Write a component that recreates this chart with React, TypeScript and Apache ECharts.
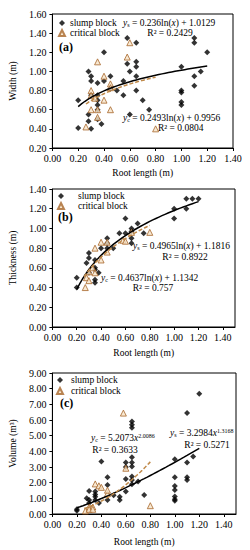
import React, { useEffect, useRef } from "react";
import * as echarts from "echarts";

// ---------- Data ----------
// Panel (a): Width vs root length
const widthSlumpX = [0.2, 0.2, 0.28, 0.3, 0.3, 0.28, 0.28, 0.3, 0.3, 0.35, 0.4, 0.4, 0.35, 0.35, 0.35, 0.35, 0.35, 0.38, 0.45, 0.45, 0.5, 0.55, 0.55, 0.58, 0.58, 0.6, 0.6, 0.65, 0.65, 0.65, 0.65, 0.65, 0.7, 0.75, 1.0, 1.0, 1.0, 1.0, 1.0, 1.1, 1.1, 1.1, 1.1, 1.15, 1.2];
const widthSlumpY = [0.70, 0.41, 1.00, 0.95, 0.90, 0.55, 0.48, 0.40, 0.75, 0.88, 0.90, 1.20, 0.75, 0.70, 0.65, 0.60, 0.50, 0.45, 0.95, 0.82, 0.80, 0.90, 0.75, 1.35, 1.08, 1.00, 0.55, 1.30, 1.10, 1.05, 0.95, 0.80, 0.70, 0.60, 1.05, 0.80, 0.78, 0.68, 0.65, 1.35, 1.30, 0.95, 0.85, 1.00, 1.20];
const widthCritX = [0.26, 0.3, 0.3, 0.3, 0.35, 0.35, 0.35, 0.4, 0.4, 0.45, 0.45, 0.58, 0.6, 0.8, 0.33, 0.45];
const widthCritY = [0.42, 0.80, 0.75, 0.60, 1.10, 0.60, 0.52, 0.95, 0.70, 0.87, 0.60, 1.15, 1.30, 0.40, 0.72, 0.83];

// Panel (b): Thickness vs root length
const thickSlumpX = [0.2, 0.2, 0.28, 0.3, 0.3, 0.3, 0.35, 0.35, 0.35, 0.35, 0.35, 0.38, 0.4, 0.45, 0.45, 0.45, 0.5, 0.55, 0.6, 0.6, 0.65, 0.65, 0.65, 0.65, 0.7, 0.75, 1.0, 1.0, 1.1, 1.1, 1.15, 1.2];
const thickSlumpY = [0.40, 0.50, 0.65, 0.75, 0.70, 0.55, 0.68, 0.60, 0.58, 0.48, 0.45, 0.55, 0.80, 0.85, 0.90, 0.80, 0.80, 0.95, 1.10, 0.95, 1.00, 0.97, 0.90, 0.85, 1.05, 0.95, 1.20, 1.10, 1.30, 1.20, 1.30, 1.30];
const thickCritX = [0.27, 0.28, 0.3, 0.3, 0.33, 0.35, 0.35, 0.4, 0.4, 0.45, 0.45, 0.58, 0.6, 0.65, 0.8];
const thickCritY = [0.40, 0.50, 0.56, 0.47, 0.60, 0.80, 0.55, 0.68, 0.86, 0.86, 0.76, 0.88, 0.87, 0.96, 0.96];

// Panel (c): Volume vs root length
const volSlumpX = [0.2, 0.2, 0.28, 0.3, 0.3, 0.3, 0.35, 0.35, 0.35, 0.35, 0.38, 0.4, 0.45, 0.45, 0.45, 0.5, 0.55, 0.55, 0.6, 0.6, 0.6, 0.6, 0.65, 0.65, 0.65, 0.65, 0.65, 0.65, 0.65, 0.65, 0.65, 0.7, 0.75, 1.0, 1.0, 1.0, 1.0, 1.0, 1.0, 1.0, 1.1, 1.1, 1.1, 1.1, 1.15, 1.2];
const volSlumpY = [0.30, 0.20, 1.00, 1.47, 0.90, 0.70, 1.43, 1.25, 1.10, 0.90, 0.70, 3.35, 2.35, 1.85, 0.90, 1.20, 1.10, 0.90, 3.28, 3.00, 2.24, 1.43, 5.90, 5.70, 5.50, 3.62, 3.28, 3.03, 2.39, 2.17, 1.90, 2.07, 1.22, 3.50, 2.35, 1.79, 1.53, 1.11, 0.94, 0.85, 6.44, 3.28, 2.35, 2.17, 3.67, 7.68];
const volCritX = [0.27, 0.3, 0.33, 0.3, 0.33, 0.35, 0.38, 0.4, 0.45, 0.45, 0.58, 0.6, 0.8];
const volCritY = [0.20, 0.45, 0.45, 0.30, 0.30, 1.92, 1.80, 1.70, 1.30, 1.52, 6.44, 2.92, 0.53];

// Trend line coefficients (from the equations printed on the chart)
const widthFitS = [0.236, 1.0129];
const widthFitC = [0.2493, 0.9956];
const thickFitS = [0.4965, 1.1816];
const thickFitC = [0.4637, 1.1342];
const volFitS = [3.2984, 1.3168];
const volFitC = [5.2073, 2.0086];
const slumpRange = [0.2, 1.2];
const critRange = [0.26, 0.8];

const yTitles = ["Width (m)", "Thickness (m)", "Volume (m³)"];
const xTitle = "Root length (m)";
const legendNames = ["slump block", "critical block"];

// ---------- helpers ----------
const FONT = '"Liberation Serif", "Times New Roman", serif';
const zip = (xs: number[], ys: number[]) => xs.map((x, i) => [x, ys[i]]);
const sampleXs = (r: number[]) => {
  const out: number[] = [];
  const n = 40;
  for (let i = 0; i <= n; i++) out.push(r[0] + ((r[1] - r[0]) * i) / n);
  return out;
};
const logFit = (c: number[], r: number[]) => sampleXs(r).map((x) => [x, c[0] * Math.log(x) + c[1]]);
const powFit = (c: number[], r: number[]) => sampleXs(r).map((x) => [x, c[0] * Math.pow(x, c[1])]);

const SLUMP_COLOR = "#000";
const CRIT_EDGE = "#A8672A";
const CRIT_FILL = "#F6E3C8";
const CRIT_LINE = "#C08A4A";

function buildOption() {
  const grids = [
    { left: 52, top: 14, right: 17, height: 134 },
    { left: 52, top: 189, right: 15, height: 138 },
    { left: 52, top: 373, right: 14, height: 141 },
  ].map((g) => ({ ...g, show: true, borderColor: "#000", borderWidth: 1, backgroundColor: "transparent" }));

  const xMax = [1.4, 1.5, 1.5];
  const xNameGap = [20, 21, 23];
  const xAxis = xMax.map((mx, i) => ({
    type: "value",
    gridIndex: i,
    min: 0,
    max: mx,
    interval: 0.2,
    name: xTitle,
    nameLocation: "middle",
    nameGap: xNameGap[i],
    nameTextStyle: { fontFamily: FONT, fontSize: 9.5, color: "#000" },
    axisLine: { show: true, onZero: false, lineStyle: { color: "#000", width: 1 } },
    axisTick: { show: true, length: 3, lineStyle: { color: "#000" } },
    axisLabel: {
      fontFamily: FONT,
      fontSize: 10,
      color: "#000",
      margin: 5,
      showMaxLabel: mx === 1.4,
      formatter: (v: number) => v.toFixed(2),
    },
    splitLine: { show: false },
  }));

  const yCfg = [
    { min: 0.2, max: 1.6, interval: 0.2, gap: 32 },
    { min: 0, max: 1.4, interval: 0.2, gap: 31 },
    { min: 0, max: 9, interval: 1, gap: 34 },
  ];
  const yAxis = yCfg.map((c, i) => ({
    type: "value",
    gridIndex: i,
    min: c.min,
    max: c.max,
    interval: c.interval,
    name: yTitles[i],
    nameLocation: "middle",
    nameGap: c.gap,
    nameTextStyle: { fontFamily: FONT, fontSize: 9.5, color: "#000" },
    axisLine: { show: true, onZero: false, lineStyle: { color: "#000", width: 1 } },
    axisTick: { show: true, length: 3, lineStyle: { color: "#000" } },
    axisLabel: {
      fontFamily: FONT,
      fontSize: 10,
      color: "#000",
      margin: 6,
      formatter: (v: number) => v.toFixed(2),
    },
    splitLine: { show: false },
  }));

  const slumpData = [zip(widthSlumpX, widthSlumpY), zip(thickSlumpX, thickSlumpY), zip(volSlumpX, volSlumpY)];
  const critData = [zip(widthCritX, widthCritY), zip(thickCritX, thickCritY), zip(volCritX, volCritY)];
  const fitS = [logFit(widthFitS, slumpRange), logFit(thickFitS, slumpRange), powFit(volFitS, slumpRange)];
  const fitC = [logFit(widthFitC, critRange), logFit(thickFitC, critRange), powFit(volFitC, critRange)];

  const series: any[] = [];
  for (let i = 0; i < 3; i++) {
    series.push({
      type: "scatter",
      name: legendNames[0],
      xAxisIndex: i,
      yAxisIndex: i,
      symbol: "diamond",
      symbolSize: 6,
      itemStyle: { color: SLUMP_COLOR },
      data: slumpData[i],
      z: 2,
    });
    series.push({
      type: "scatter",
      name: legendNames[1],
      xAxisIndex: i,
      yAxisIndex: i,
      symbol: "triangle",
      symbolSize: 6,
      itemStyle: { color: CRIT_FILL, borderColor: CRIT_EDGE, borderWidth: 1 },
      data: critData[i],
      z: 3,
    });
    series.push({
      type: "line",
      name: "fit-s-" + i,
      xAxisIndex: i,
      yAxisIndex: i,
      showSymbol: false,
      symbol: "none",
      silent: true,
      lineStyle: { color: "#000", width: 1.5 },
      data: fitS[i],
      z: 4,
    });
    series.push({
      type: "line",
      name: "fit-c-" + i,
      xAxisIndex: i,
      yAxisIndex: i,
      showSymbol: false,
      symbol: "none",
      silent: true,
      lineStyle: { color: CRIT_LINE, width: 1.5, type: [4, 2] },
      data: fitC[i],
      z: 4,
    });
  }

  const legCfg = [
    { left: 58, top: 18, pad: 0, lh: 10, gap: 0 },
    { left: 57, top: 191, pad: 9, lh: 9, gap: 0 },
    { left: 56, top: 375, pad: 3, lh: 10, gap: 1 },
  ];
  const legend = legCfg.map((l) => ({
    orient: "vertical",
    left: l.left,
    top: l.top,
    padding: 0,
    itemGap: l.gap,
    itemWidth: 6,
    itemHeight: 6,
    selectedMode: false,
    data: legendNames,
    textStyle: { fontFamily: FONT, fontSize: 9.5, color: "#000", lineHeight: l.lh, padding: [0, 0, 0, l.pad] },
  }));

  const rich = {
    n: { fontFamily: FONT, fontSize: 9.5, color: "#000", lineHeight: 10 },
    i: { fontFamily: FONT, fontSize: 9.5, fontStyle: "italic", color: "#000", lineHeight: 10 },
    sub: { fontFamily: FONT, fontSize: 6, color: "#000", lineHeight: 10, verticalAlign: "bottom" },
    sup: { fontFamily: FONT, fontSize: 6, color: "#000", lineHeight: 10, verticalAlign: "top" },
  };
  const eqText = (x: number, y: number, text: string, align = "left") => ({
    type: "text",
    x,
    y,
    z: 100,
    style: {
      text,
      rich,
      fontFamily: FONT,
      fontSize: 9.5,
      fill: "#000",
      align,
      verticalAlign: "middle",
    },
  });
  const panelLabel = (x: number, y: number, t: string) => ({
    type: "text",
    x,
    y,
    z: 100,
    style: { text: t, fontFamily: FONT, fontSize: 12, fontWeight: "bold", fill: "#000", align: "left", verticalAlign: "middle" },
  });

  const graphic = [
    panelLabel(59, 47, "(a)"),
    eqText(123, 23, `{i|y}{sub|s}{n| = ${widthFitS[0]}ln(}{i|x}{n|) + ${widthFitS[1]}}`),
    eqText(170, 33, "{n|R² = 0.2429}", "center"),
    eqText(123, 118, `{i|y}{sub|c}{n| = ${widthFitC[0]}ln(}{i|x}{n|) + ${widthFitC[1]}}`),
    eqText(158, 128, "{n|R² = 0.0804}"),

    panelLabel(58, 217, "(b)"),
    eqText(133, 246, `{i|y}{sub|s}{n| = ${thickFitS[0]}ln(}{i|x}{n|) + ${thickFitS[1]}}`),
    eqText(185, 257, "{n|R² = 0.8922}", "center"),
    eqText(101, 278, `{i|y}{sub|c}{n| = ${thickFitC[0]}ln(}{i|x}{n|) + ${thickFitC[1]}}`),
    eqText(153, 288, "{n|R² = 0.757}", "center"),

    panelLabel(60, 403, "(c)"),
    eqText(91, 438, `{i|y}{sub|c}{n| = ${volFitC[0]}}{i|x}{sup|${volFitC[1].toFixed(4)}}`),
    eqText(115, 450, "{n|R² = 0.3633}", "center"),
    eqText(170, 433, `{i|y}{sub|s}{n| = ${volFitS[0]}}{i|x}{sup|${volFitS[1].toFixed(4)}}`),
    eqText(207, 445, "{n|R² = 0.5271}", "center"),
  ];

  return {
    animation: false,
    backgroundColor: "#fff",
    grid: grids,
    xAxis,
    yAxis,
    legend,
    series,
    graphic,
  };
}

export default function App() {
  const ref = useRef<HTMLDivElement>(null);
  useEffect(() => {
    document.body.style.margin = "0";
    if (!ref.current) return;
    const chart = echarts.init(ref.current, undefined, { renderer: "svg" });
    chart.setOption(buildOption() as any);
    return () => chart.dispose();
  }, []);
  return <div ref={ref} style={{ width: 250, height: 550 }} />;
}
